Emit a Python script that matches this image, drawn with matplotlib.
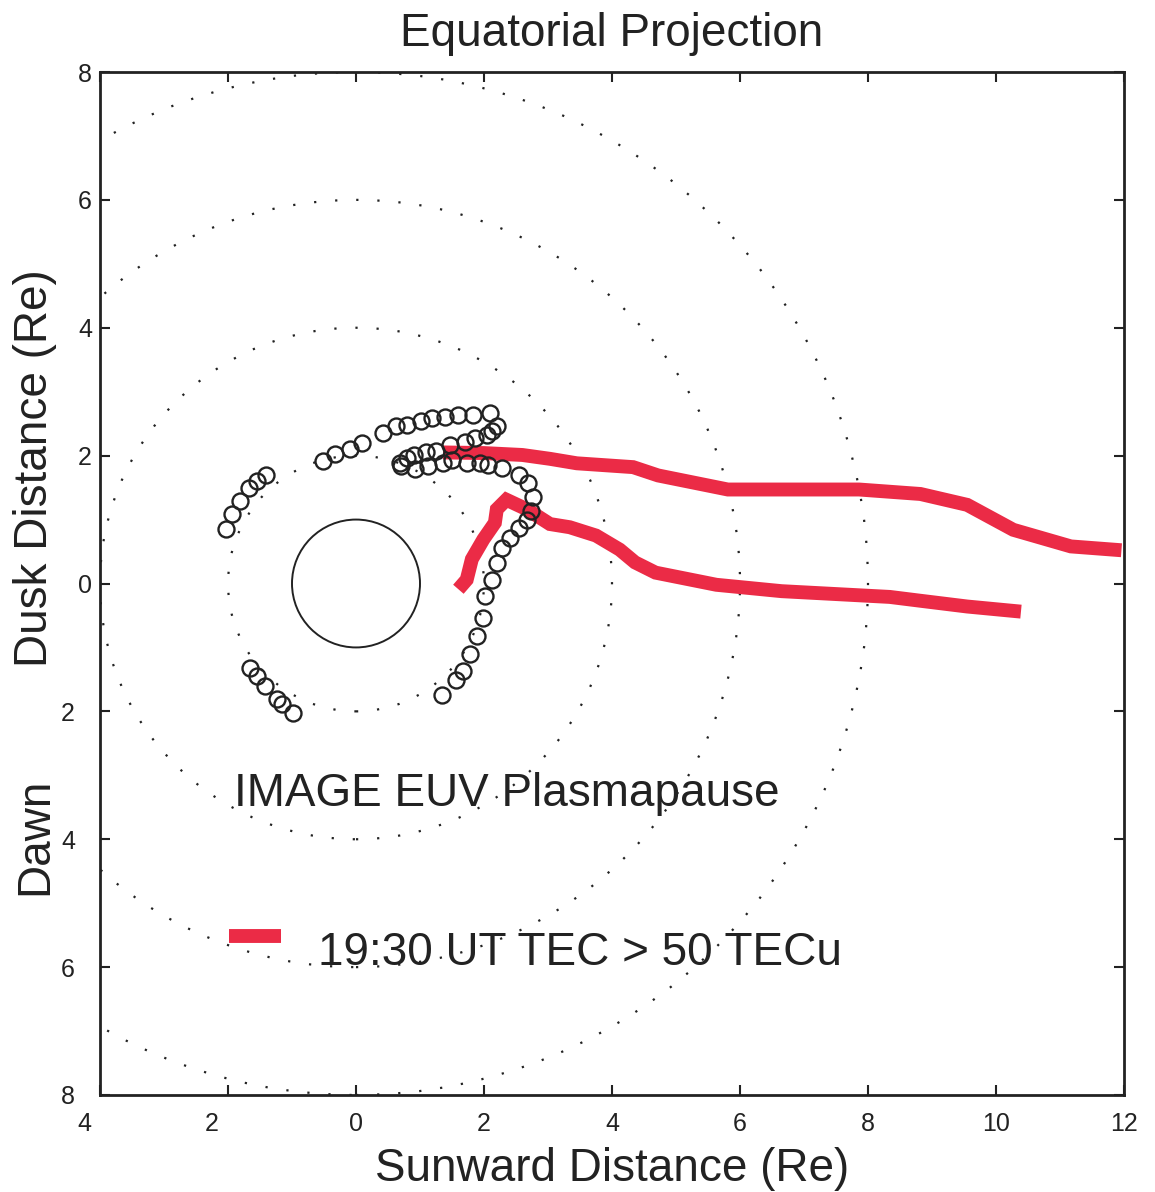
import numpy as np
import matplotlib
matplotlib.use('Agg')
import matplotlib.pyplot as plt
from matplotlib.patches import Circle
from matplotlib.transforms import offset_copy

plt.rcParams['font.family'] = ['Liberation Sans', 'DejaVu Sans']

# IMAGE EUV plasmapause points (Re)
euv_x = [-2.03, -1.93, -1.81, -1.67, -1.55, -1.40,
         -0.52, -0.33, -0.09, 0.10, 0.42, 0.63, 0.80, 1.01, 1.18, 1.39, 1.60, 1.83, 2.09,
         2.20, 2.13, 2.04, 1.86, 1.70, 1.47, 1.25, 1.10, 0.91, 0.79, 0.69,
         0.71, 0.92, 1.13, 1.36, 1.50, 1.73, 1.94, 2.07, 2.28, 2.54, 2.68, 2.76, 2.74,
         2.67, 2.55, 2.40, 2.28, 2.20, 2.12, 2.02, 1.99, 1.89, 1.78, 1.67, 1.56, 1.35,
         -1.66, -1.55, -1.42, -1.23, -1.15, -0.98]
euv_y = [0.86, 1.08, 1.29, 1.49, 1.60, 1.70,
         1.91, 2.02, 2.11, 2.20, 2.35, 2.47, 2.48, 2.54, 2.59, 2.61, 2.64, 2.63, 2.67,
         2.46, 2.39, 2.32, 2.27, 2.21, 2.16, 2.08, 2.05, 2.01, 1.96, 1.89,
         1.84, 1.79, 1.83, 1.89, 1.93, 1.88, 1.89, 1.86, 1.80, 1.70, 1.57, 1.36, 1.13,
         1.00, 0.87, 0.71, 0.56, 0.32, 0.06, -0.20, -0.54, -0.82, -1.11, -1.37, -1.51, -1.75,
         -1.32, -1.44, -1.60, -1.81, -1.89, -2.02]

# 19:30 UT TEC > 50 TECu boundaries
tec_upper_x = [1.36, 2.00, 2.60, 3.03, 3.45, 4.33, 4.72, 5.81, 7.86, 8.82, 9.55, 10.27, 11.17, 11.96]
tec_upper_y = [2.05, 2.04, 2.01, 1.95, 1.88, 1.82, 1.69, 1.47, 1.47, 1.40, 1.23, 0.84, 0.58, 0.52]
tec_lower_x = [1.60, 1.73, 1.81, 1.99, 2.17, 2.20, 2.35, 2.67, 3.03, 3.34, 3.75, 4.12, 4.36,
               4.68, 5.63, 6.65, 8.34, 8.82, 9.55, 10.39]
tec_lower_y = [-0.09, 0.06, 0.38, 0.69, 0.95, 1.16, 1.31, 1.16, 0.93, 0.88, 0.75, 0.53, 0.33,
               0.17, -0.02, -0.12, -0.21, -0.27, -0.36, -0.44]

shell_radii = [2, 4, 6, 8]
earth_radius = 1

xticks = [-4, -2, 0, 2, 4, 6, 8, 10, 12]
yticks = [-8, -6, -4, -2, 0, 2, 4, 6, 8]

ink = '#222222'
red = '#EB2B46'

fig = plt.figure(figsize=(11.55, 11.92), dpi=100)
ax = fig.add_axes([100 / 1155, 97 / 1192, 1024 / 1155, 1023 / 1192])

# dotted reference circles
for r in shell_radii:
    ax.add_patch(Circle((0, 0), r, fill=False, edgecolor=ink, lw=1.6,
                        linestyle=(0, (1, 8.5)), zorder=1))
# Earth
ax.add_patch(Circle((0, 0), earth_radius, fill=False, edgecolor=ink, lw=1.4, zorder=2))

tec_line, = ax.plot(tec_upper_x, tec_upper_y, color=red, lw=10, solid_capstyle='butt',
                    solid_joinstyle='miter', zorder=3, label='19:30 UT TEC > 50 TECu')
ax.plot(tec_lower_x, tec_lower_y, color=red, lw=10, solid_capstyle='butt',
        solid_joinstyle='miter', zorder=3)

ax.plot(euv_x, euv_y, 'o', mfc='none', mec=ink, ms=11.5, mew=1.7, zorder=4)

ax.set_xlim(-4, 12)
ax.set_ylim(-8, 8)

# ticks inside on all sides, labels drawn by hand (no minus signs)
ax.set_xticks(xticks)
ax.set_yticks(yticks)
ax.tick_params(direction='in', length=7.2, width=1.5, color=ink, top=True, right=True,
               labelbottom=False, labelleft=False)
for sp in ax.spines.values():
    sp.set_linewidth(2)
    sp.set_color(ink)

for xt in xticks:
    dx = -11.5 if xt < 0 else 0
    tr = offset_copy(ax.get_xaxis_transform(), fig=fig, x=dx, y=-12.2, units='points')
    ax.text(xt, 0, f'{abs(xt)}', transform=tr, ha='center', va='top', fontsize=18, color=ink)
for yt in yticks:
    dx = -18 if yt < 0 else -5.8
    tr = offset_copy(ax.get_yaxis_transform(), fig=fig, x=dx, y=0, units='points')
    ax.text(0, yt, f'{abs(yt)}', transform=tr, ha='right', va='center_baseline',
            fontsize=18, color=ink)

ax.set_title('Equatorial Projection', fontsize=33, pad=19, color=ink)
ax.set_xlabel('Sunward Distance (Re)', fontsize=33, color=ink)
ax.xaxis.set_label_coords(0.5, -0.051)
ax.set_ylabel('Dusk Distance (Re)', fontsize=33, color=ink)
ax.yaxis.set_label_coords(-0.042, 0.613)
ax.text(-0.042, 0.253, 'Dawn', transform=ax.transAxes, rotation=90, rotation_mode='anchor',
        ha='center', va='bottom', fontsize=33, color=ink)

ax.text(-1.9, -3.3, 'IMAGE EUV Plasmapause', fontsize=33, color=ink, va='center')

leg = ax.legend(handles=[tec_line], loc='center left', bbox_to_anchor=(0.126, 0.139),
                frameon=False, fontsize=33, handlelength=1.13, handletextpad=0.81,
                borderpad=0, borderaxespad=0)
for t in leg.get_texts():
    t.set_color(ink)
legline = leg.legend_handles[0]
legline.set_ydata(np.asarray(legline.get_ydata()) + 9)

fig.savefig('out.png', dpi=100)
